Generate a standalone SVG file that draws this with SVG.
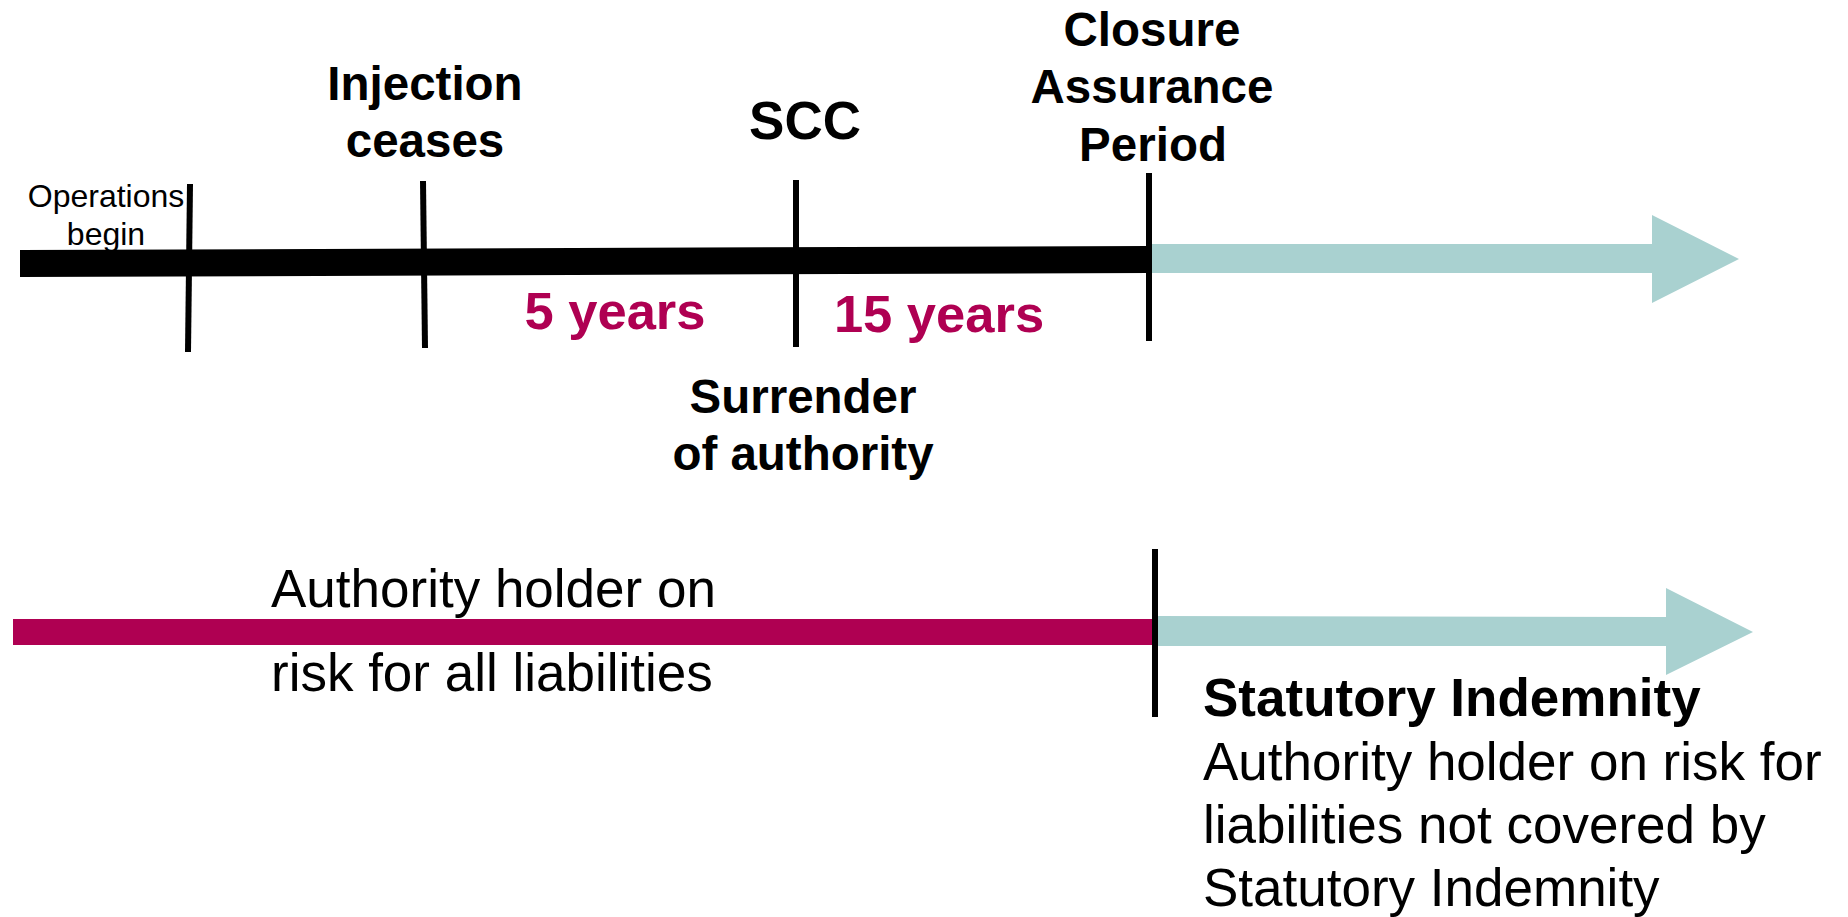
<svg xmlns="http://www.w3.org/2000/svg" width="1848" height="917" viewBox="0 0 1848 917">
<style>
text{font-family:"Liberation Sans",Arial,sans-serif;fill:#000}
.b{font-weight:bold}
.m{fill:#AF0052;font-weight:bold;font-size:52.5px}
.lbl{font-size:47.5px;font-weight:bold;text-anchor:middle}
.big{font-size:53px}
.tick{stroke:#000;stroke-width:6;fill:none}
.teal{fill:#A9D1D0}
.body{font-size:53px}
.small{font-size:32px;text-anchor:middle}
</style>
<rect width="1848" height="917" fill="#fff"/>
<g id="connectors">
  <polygon id="timeline-bar" points="20,250 1149,246 1149,273 20,277" fill="#000"/>
  <polygon id="cap-arrow" class="teal" points="1149,244 1652,244 1652,215 1739,259 1652,303 1652,273 1149,273"/>
  <rect id="liability-bar" x="13" y="619" width="1142" height="26" fill="#AF0052"/>
  <polygon id="indemnity-arrow" class="teal" points="1155,616 1666,617 1666,588 1753,632 1666,675 1666,646 1155,646"/>
  <line class="tick" x1="190" y1="184" x2="188" y2="352"/>
  <line class="tick" x1="423" y1="181" x2="425" y2="348"/>
  <line class="tick" x1="796" y1="180" x2="796" y2="347"/>
  <line class="tick" x1="1149" y1="173" x2="1149" y2="341"/>
  <line class="tick" x1="1155" y1="549" x2="1155" y2="717"/>
</g>
<g id="operations-begin">
  <text class="small" x="106" y="207">Operations</text>
  <text class="small" x="106" y="245">begin</text>
</g>
<g id="injection-ceases">
  <text class="lbl" x="425" y="100">Injection</text>
  <text class="lbl" x="425" y="157">ceases</text>
</g>
<g id="scc">
  <text class="lbl big" x="805" y="139">SCC</text>
</g>
<g id="closure-assurance-period">
  <text class="lbl" x="1152" y="46">Closure</text>
  <text class="lbl" x="1152" y="103">Assurance</text>
  <text class="lbl" x="1153" y="161">Period</text>
</g>
<g id="five-years">
  <text class="m" x="615" y="329" text-anchor="middle">5 years</text>
</g>
<g id="fifteen-years">
  <text class="m" x="939" y="332" text-anchor="middle">15 years</text>
</g>
<g id="surrender-of-authority">
  <text class="lbl" x="803" y="413">Surrender</text>
  <text class="lbl" x="803" y="470">of authority</text>
</g>
<g id="authority-holder-all">
  <text class="body" x="271" y="607">Authority holder on</text>
  <text class="body" x="271" y="691">risk for all liabilities</text>
</g>
<g id="statutory-indemnity">
  <text class="body b" x="1203" y="716">Statutory Indemnity</text>
  <text class="body" x="1203" y="780">Authority holder on risk for</text>
  <text class="body" x="1203" y="843">liabilities not covered by</text>
  <text class="body" x="1203" y="906">Statutory Indemnity</text>
</g>
</svg>
